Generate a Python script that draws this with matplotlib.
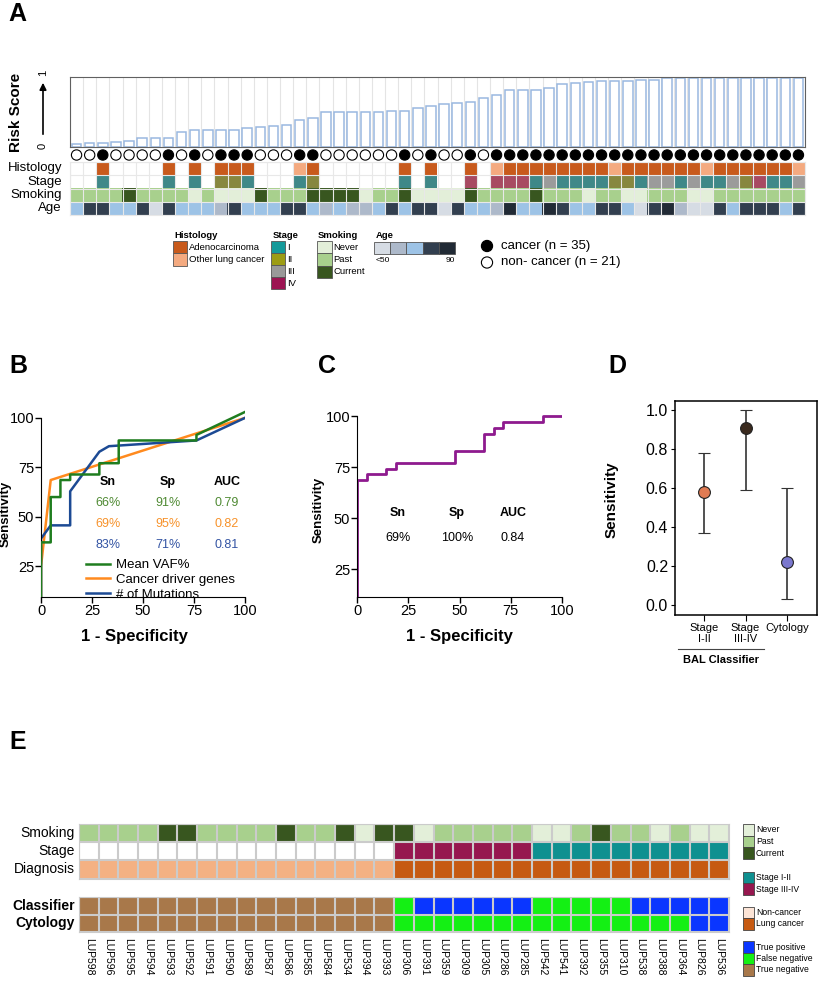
import numpy as np
import matplotlib
matplotlib.use("Agg")
import matplotlib.pyplot as plt
from matplotlib.patches import Rectangle, Circle
from matplotlib.colors import to_rgb

plt.rcParams['font.family'] = ['Liberation Sans', 'DejaVu Sans']

W, H = 819, 981

# ---------- A: samples sorted by risk score ----------
risk = [0.05, 0.06, 0.06, 0.07, 0.08, 0.13, 0.13, 0.13, 0.21, 0.24,
        0.24, 0.24, 0.25, 0.27, 0.28, 0.30, 0.32, 0.39, 0.42, 0.50,
        0.50, 0.50, 0.50, 0.50, 0.51, 0.52, 0.56, 0.59, 0.62, 0.63,
        0.65, 0.70, 0.75, 0.81, 0.81, 0.81, 0.85, 0.90, 0.92, 0.93,
        0.94, 0.95, 0.95, 0.96, 0.96, 0.98, 0.98, 0.98, 0.98, 0.98,
        0.99, 0.99, 0.99, 0.99, 0.99, 0.99]
is_cancer = [0, 0, 1, 0, 0, 0, 0, 1, 0, 1,
             0, 1, 1, 1, 0, 0, 0, 1, 1, 0,
             0, 0, 0, 0, 0, 1, 0, 1, 0, 0,
             1, 0, 1, 1, 1, 1, 1, 1, 1, 1,
             1, 1, 1, 1, 1, 1, 1, 1, 1, 1,
             1, 1, 1, 1, 1, 1]
# '-' none, A adenocarcinoma, O other lung cancer
histology = "--A----A-A" "-AAA---OA-" "-----A-A--" "A-OAAAAAAA" "AOAAAAAAOA" "AAAAAO"
# stage 1..4
stage = "--1----1-1" "-221---12-" "-----1-1--" "4-44413111" "1221331311" "324113"
# N never, P past, C current
smoking = "PPPPCPPPPN" "PNNNCPPPCC" "CCNPPCNNNN" "CPPPPCPPPN" "PPNNPPPNNP" "PPPPPP"
# age bins 0 (<50) .. 4 (90)
age = "2332230322" "2132223321" "2112323303" "2214224322" "3320341003" "233323"

hist_col = {'-': '#ffffff', 'A': '#c85a1c', 'O': '#f4aa80'}
stage_col = {'-': '#ffffff', '1': '#3f8888', '2': '#87873f', '3': '#9b9b9b', '4': '#a84a62'}
smoke_col = {'N': '#e3efd9', 'P': '#a8d08d', 'C': '#38561f'}
age_col = {'0': '#d6dce4', '1': '#adb9ca', '2': '#9dc3e6', '3': '#323f4f', '4': '#212a35'}

# ---------- B: ROC curves ----------
vaf_x = [0, 0, 4.76, 4.76, 9.52, 9.52, 14.3, 14.3, 28.6, 28.6, 38.1, 38.1, 76.2, 76.2, 100]
vaf_y = [0, 37.1, 37.1, 60.0, 60.0, 68.6, 68.6, 71.4, 71.4, 77.1, 77.1, 88.6, 88.6, 91.4, 103]
drv_x = [0, 0, 4.76, 100]
drv_y = [0, 25, 68.6, 100]
mut_x = [0, 0, 4.76, 14.3, 14.3, 28.6, 33.3, 76.2, 100]
mut_y = [0, 39, 45.7, 45.7, 62.9, 82.9, 85.7, 88.6, 100]
b_names = ["Mean VAF%", "Cancer driver genes", "# of Mutations"]
b_sn = ["66%", "69%", "83%"]
b_sp = ["91%", "95%", "71%"]
b_auc = ["0.79", "0.82", "0.81"]

# ---------- C: combined ROC ----------
c_x = [0, 0, 4.76, 14.3, 19.0, 47.6, 61.9, 66.7, 71.4, 90.5, 100]
c_y = [0, 68.6, 71.4, 74.3, 77.1, 82.9, 91.4, 94.3, 97.1, 100, 100]
c_stats = ["69%", "100%", "0.84"]

# ---------- D: sensitivity with CI ----------
d_cats = ["Stage\nI-II", "Stage\nIII-IV", "Cytology"]
d_sens = [0.58, 0.91, 0.22]
d_lo = [0.37, 0.59, 0.03]
d_hi = [0.78, 1.00, 0.60]
d_cols = ['#e07b53', '#3a2a1e', '#7b78cf']

# ---------- E: per-sample comparison ----------
samples = ["LUP598", "LUP596", "LUP595", "LUP594", "LUP593", "LUP592", "LUP591", "LUP590",
           "LUP589", "LUP587", "LUP586", "LUP585", "LUP584", "LUP534", "LUP394", "LUP393",
           "LUP306", "LUP391", "LUP359", "LUP309", "LUP305", "LUP286", "LUP285", "LUP542",
           "LUP541", "LUP392", "LUP355", "LUP310", "LUP538", "LUP388", "LUP364", "LUP826", "LUP536"]
e_smoking = "PPPPCCPPPPCPPCNC" "CNPPPPPNNPCPPNPNN"
e_stage = "----------------" "HHHHHHHLLLLLLLLLL"
e_diag = "NNNNNNNNNNNNNNNN" "CCCCCCCCCCCCCCCCC"
e_classifier = "TTTTTTTTTTTTTTTT" "FPPPPPPFFFFFPPPPP"
e_cytology = "TTTTTTTTTTTTTTTT" "FFFFFFFFFFFFFFFPP"

e_stage_col = {'-': '#ffffff', 'L': '#0f9090', 'H': '#96174f'}
e_diag_col = {'N': '#f4b183', 'C': '#c65a12'}
e_res_col = {'P': '#0a36ff', 'F': '#14f014', 'T': '#a8784a'}


def px_axes(x0, y0, x1, y1, **kw):
    return fig.add_axes([x0 / W, 1 - y1 / H, (x1 - x0) / W, (y1 - y0) / H], **kw)


def rgb_rows(rows, maps):
    return np.array([[to_rgb(m[c]) for c in r] for r, m in zip(rows, maps)])


def grid(ax, n_cols, n_rows, color, lw):
    for x in np.arange(n_cols + 1) - 0.5:
        ax.axvline(x, color=color, lw=lw)
    for y in np.arange(n_rows + 1) - 0.5:
        ax.axhline(y, color=color, lw=lw)
    ax.set_xticks([])
    ax.set_yticks([])
    for s in ax.spines.values():
        s.set_color(color)


fig = plt.figure(figsize=(W / 100, H / 100), dpi=100)

# ===== Panel A =====
n = len(risk)
idx = np.arange(n)
axr = px_axes(70, 77, 805, 147)
for x in np.arange(n + 1) - 0.5:
    axr.axvline(x, color='#e4e4e4', lw=0.8, zorder=0)
axr.bar(idx, risk, width=0.72, color='white', edgecolor='#9ab8e0', lw=1.1, zorder=2)
axr.set_xlim(-0.5, n - 0.5)
axr.set_ylim(0, 1.0)
axr.set_xticks([])
axr.set_yticks([])
for s in axr.spines.values():
    s.set_color('#606060')

axc = px_axes(70, 148, 805, 162)
axc.scatter(idx, np.zeros(n), s=55, c=['black' if c else 'white' for c in is_cancer],
            edgecolors='black', linewidths=0.8)
axc.set_xlim(-0.5, n - 0.5)
axc.set_ylim(-1, 1)
axc.axis('off')

axm = px_axes(70, 162, 805, 215)
img = rgb_rows([histology, stage, smoking, age], [hist_col, stage_col, smoke_col, age_col])
axm.imshow(img, aspect='auto', interpolation='nearest', extent=(-0.5, n - 0.5, 3.5, -0.5))
grid(axm, n, 4, '#e8e8e8', 0.8)

# ===== Panel B =====
axB = px_axes(41, 408, 245, 597)
axB.plot(vaf_x, vaf_y, color='#1f7d1f', lw=1.8, label=b_names[0], zorder=3)
axB.plot(drv_x, drv_y, color='#ff8a1e', lw=1.8, label=b_names[1], zorder=2)
axB.plot(mut_x, mut_y, color='#1c4a94', lw=1.8, label=b_names[2], zorder=2)
axB.set_xlim(0, 100)
axB.set_ylim(9.5, 105)

# ===== Panel C =====
axC = px_axes(357, 410, 562, 597)
axC.step(c_x, c_y, where='post', color='#8e1a8e', lw=2.0)
axC.set_xlim(0, 100)
axC.set_ylim(11.3, 103)

for ax in (axB, axC):
    for s in ('top', 'right'):
        ax.spines[s].set_visible(False)
    ax.spines['left'].set_bounds(ax.get_ylim()[0], 100)
    ax.set_xticks([0, 25, 50, 75, 100])
    ax.set_yticks([25, 50, 75, 100])
    ax.tick_params(direction='out', length=4, width=1, labelsize=10.5, pad=1)
    ax.set_ylabel("Sensitivity", fontsize=9.5, fontweight='bold')
    ax.set_xlabel("1 - Specificity", fontsize=12, fontweight='bold')
axB.yaxis.set_label_coords(-0.145, 0.44)
axB.xaxis.set_label_coords(0.46, -0.17)
axC.yaxis.set_label_coords(-0.16, 0.465)
axC.xaxis.set_label_coords(0.50, -0.17)

axB.legend(loc='upper left', bbox_to_anchor=(86 / W, 1 - 559 / H), bbox_transform=fig.transFigure,
           frameon=False, fontsize=9.5, handlelength=1.8, handletextpad=0.5,
           labelspacing=0.2, borderpad=0, borderaxespad=0)

# ===== Panel D =====
axD = px_axes(675, 401, 817, 615)
xd = np.arange(1, len(d_cats) + 1)
for i in range(len(d_cats)):
    axD.errorbar(xd[i], d_sens[i], yerr=[[d_sens[i] - d_lo[i]], [d_hi[i] - d_sens[i]]],
                 fmt='o', color='#333333', ecolor='#333333', elinewidth=1.2, capsize=4.5,
                 capthick=1.2, markersize=8.5, markerfacecolor=d_cols[i],
                 markeredgecolor='#222222', markeredgewidth=0.8)
axD.set_xlim(0.29, 3.73)
axD.set_ylim(-0.051, 1.046)
axD.set_yticks([0.0, 0.2, 0.4, 0.6, 0.8, 1.0])
axD.set_yticklabels(["0.0", "0.2", "0.4", "0.6", "0.8", "1.0"])
axD.set_xticks(xd)
axD.set_xticklabels(d_cats, fontsize=8, linespacing=1.1)
axD.tick_params(axis='y', direction='out', length=3, labelsize=11.5, pad=2)
axD.tick_params(axis='x', direction='out', length=4, pad=2)
axD.set_ylabel("Sensitivity", fontsize=11, fontweight='bold')
axD.yaxis.set_label_coords(-0.40, 0.537)
for s in axD.spines.values():
    s.set_linewidth(1.1)

# ===== Panel E =====
ne = len(samples)
axE1 = px_axes(79, 824, 729, 878.5)
img1 = rgb_rows([e_smoking, e_stage, e_diag], [smoke_col, e_stage_col, e_diag_col])
axE1.imshow(img1, aspect='auto', interpolation='nearest', extent=(-0.5, ne - 0.5, 2.5, -0.5))
grid(axE1, ne, 3, '#cbcbcb', 1.5)

axE2 = px_axes(79, 897, 729, 932)
img2 = rgb_rows([e_classifier, e_cytology], [e_res_col, e_res_col])
axE2.imshow(img2, aspect='auto', interpolation='nearest', extent=(-0.5, ne - 0.5, 1.5, -0.5))
grid(axE2, ne, 2, '#cbcbcb', 1.5)
axE2.set_xticks(np.arange(ne))
axE2.set_xticklabels(samples, rotation=270, fontsize=7.5, va='top', ha='center')
axE2.tick_params(axis='x', length=0, pad=4)

# ===== overlay: letters, row labels, legends, tables =====
ov = fig.add_axes([0, 0, 1, 1], zorder=10)
ov.set_xlim(0, W)
ov.set_ylim(H, 0)
ov.axis('off')
ov.patch.set_alpha(0)

for letter, x, y in [("A", 8, 14), ("B", 9, 366), ("C", 318, 366), ("D", 608, 366), ("E", 9, 742)]:
    ov.text(x, y, letter, fontsize=18, fontweight='bold', va='center', ha='left')

# panel A labels
ov.text(16, 112, "Risk Score", rotation=90, fontsize=11, fontweight='bold', va='center', ha='center')
ov.annotate("", xy=(43, 80), xytext=(43, 137),
            arrowprops=dict(arrowstyle='-|>', color='black', lw=1.2, mutation_scale=10))
ov.text(43, 73, "1", rotation=90, fontsize=8, va='center', ha='center')
ov.text(43, 146, "0", rotation=90, fontsize=8, va='center', ha='center')
for lab, y in [("Histology", 168), ("Stage", 181.5), ("Smoking", 195), ("Age", 208.5)]:
    ov.text(62, y, lab, fontsize=9.5, va='center', ha='right')


# panel A legend
def box(x, y, w, h, fc, ec='#555555'):
    ov.add_patch(Rectangle((x, y), w, h, facecolor=fc, edgecolor=ec, lw=0.6))


ov.text(174, 236, "Histology", fontsize=6.8, fontweight='bold', va='center')
box(173, 241, 14, 12.3, hist_col['A'])
box(173, 253.3, 14, 12.3, hist_col['O'])
ov.text(189, 247, "Adenocarcinoma", fontsize=6.8, va='center')
ov.text(189, 259.5, "Other lung cancer", fontsize=6.8, va='center')

ov.text(273, 236, "Stage", fontsize=6.8, fontweight='bold', va='center')
for k, (lab, col) in enumerate([("I", '#149a9a'), ("II", '#9c9c14'), ("III", '#999999'), ("IV", '#9c1452')]):
    box(271, 241 + 12 * k, 14, 12, col)
    ov.text(287, 247 + 12 * k, lab, fontsize=6.8, va='center')

ov.text(318, 236, "Smoking", fontsize=6.8, fontweight='bold', va='center')
for k, (lab, key) in enumerate([("Never", 'N'), ("Past", 'P'), ("Current", 'C')]):
    box(316.5, 241 + 12.3 * k, 15, 12.3, smoke_col[key])
    ov.text(333, 247 + 12.3 * k, lab, fontsize=6.8, va='center')

ov.text(376, 236, "Age", fontsize=6.8, fontweight='bold', va='center')
for k in range(5):
    box(374 + 16.2 * k, 241.5, 16.2, 12.5, age_col[str(k)])
ov.text(376, 261, "<50", fontsize=6, va='center')
ov.text(455, 261, "90", fontsize=6, va='center', ha='right')

ov.add_patch(Circle((487, 246), 5.6, facecolor='black', edgecolor='black', lw=0.8))
ov.add_patch(Circle((487, 262.5), 5.6, facecolor='white', edgecolor='black', lw=0.8))
ov.text(501, 246, "cancer (n = 35)", fontsize=9.5, va='center')
ov.text(501, 262.5, "non- cancer (n = 21)", fontsize=9.5, va='center')

# panel B table
b_cols = ['#4f8a33', '#f7922a', '#3354a3']
for x, h in zip([108, 168, 227], ["Sn", "Sp", "AUC"]):
    ov.text(x, 482, h, fontsize=9, fontweight='bold', ha='center', va='center')
for r in range(3):
    y = 503 + 21 * r
    for x, v in zip([108, 168, 227], [b_sn[r], b_sp[r], b_auc[r]]):
        ov.text(x, y, v, fontsize=9, color=b_cols[r], ha='center', va='center')

# panel C table
for x, h, v in zip([398, 457, 513], ["Sn", "Sp", "AUC"], c_stats):
    ov.text(x, 513, h, fontsize=9, fontweight='bold', ha='center', va='center')
    ov.text(x, 538, v, fontsize=9, ha='center', va='center')

# panel D group label
ov.plot([678, 764], [649, 649], color='#444444', lw=0.8)
ov.text(721, 660, "BAL Classifier", fontsize=8, fontweight='bold', ha='center', va='center')

# panel E row labels
for lab, y, w in [("Smoking", 833, 'normal'), ("Stage", 851, 'normal'), ("Diagnosis", 869, 'normal'),
                  ("Classifier", 906, 'bold'), ("Cytology", 923, 'bold')]:
    ov.text(75, y, lab, fontsize=10, fontweight=w, ha='right', va='center')

# panel E legend
leg_groups = [
    [(830, "Never", smoke_col['N']), (841.5, "Past", smoke_col['P']), (853, "Current", smoke_col['C'])],
    [(877.5, "Stage I-II", e_stage_col['L']), (889, "Stage III-IV", e_stage_col['H'])],
    [(912.5, "Non-cancer", '#fce4d6'), (924, "Lung cancer", e_diag_col['C'])],
    [(947, "True positive", e_res_col['P']), (958.5, "False negative", e_res_col['F']),
     (970, "True negative", e_res_col['T'])],
]
for grp in leg_groups:
    for y, lab, col in grp:
        box(743, y - 5.75, 11, 11.5, col, ec='#444444')
        ov.text(756, y, lab, fontsize=6.2, va='center')

fig.savefig("out.png", dpi=100)
